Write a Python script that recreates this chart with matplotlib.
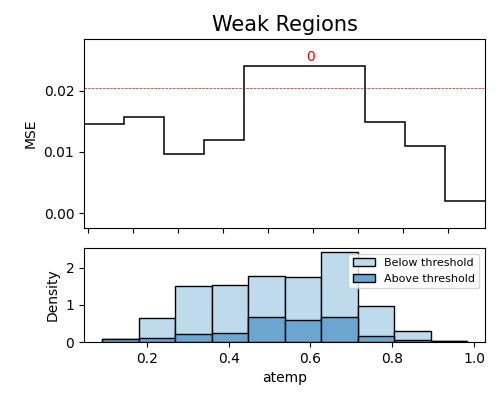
import matplotlib
matplotlib.use("Agg")
import matplotlib.pyplot as plt
import numpy as np

# bin edges (atemp)
bin_edges = [0.0905, 0.1798, 0.2691, 0.3584, 0.4477, 0.5370, 0.6263, 0.7156, 0.8049, 0.8942, 0.9835]
mse_values = [0.01454, 0.01574, 0.00959, 0.01193, 0.02407, 0.02407, 0.02407, 0.01482, 0.01090, 0.00196]
threshold = 0.0204
region_labels = ["0"]
region_label_x = [0.596]
below_density = [0.09, 0.66, 1.51, 1.55, 1.79, 1.76, 2.42, 0.98, 0.29, 0.036]
above_density = [0.07, 0.12, 0.225, 0.25, 0.685, 0.60, 0.685, 0.17, 0.045, 0.02]

fig = plt.figure(figsize=(5, 4), dpi=100)
ax1 = fig.add_axes([0.168, 0.43, 0.802, 0.4725])
ax2 = fig.add_axes([0.168, 0.145, 0.802, 0.235])

edges = np.array(bin_edges)
ax1.stairs(mse_values, edges, color="black", linewidth=1.1, baseline=None)
ax1.axhline(threshold, color="red", linestyle="--", linewidth=0.5)
ax1.text(region_label_x[0], max(mse_values) + 0.0003, region_labels[0], color="red",
         ha="center", va="bottom", fontsize=10)
ax1.set_xlim(edges[0], edges[-1])
ax1.set_ylim(-0.00245, 0.02843)
ax1.set_xticks([0.1, 0.2, 0.3, 0.4, 0.5, 0.6, 0.7, 0.8, 0.9])
ax1.set_xticklabels([])
ax1.set_yticks([0.0, 0.01, 0.02])
ax1.set_ylabel("MSE")
ax1.set_title("Weak Regions", fontsize=15)

widths = np.diff(edges)
ax2.bar(edges[:-1], below_density, width=widths, align="edge", color="#bfdbeb",
        edgecolor="black", linewidth=1, label="Below threshold")
ax2.bar(edges[:-1], above_density, width=widths, align="edge", color="#6aa6d0",
        edgecolor="black", linewidth=1, label="Above threshold")
ax2.set_xlim(0.0463, 1.027)
ax2.set_ylim(0, 2.54)
ax2.set_xticks([0.2, 0.4, 0.6, 0.8, 1.0])
ax2.set_yticks([0, 1, 2])
ax2.set_xlabel("atemp")
ax2.set_ylabel("Density")
ax2.legend(loc="upper right", fontsize=8)

fig.savefig("out.png", dpi=100)
